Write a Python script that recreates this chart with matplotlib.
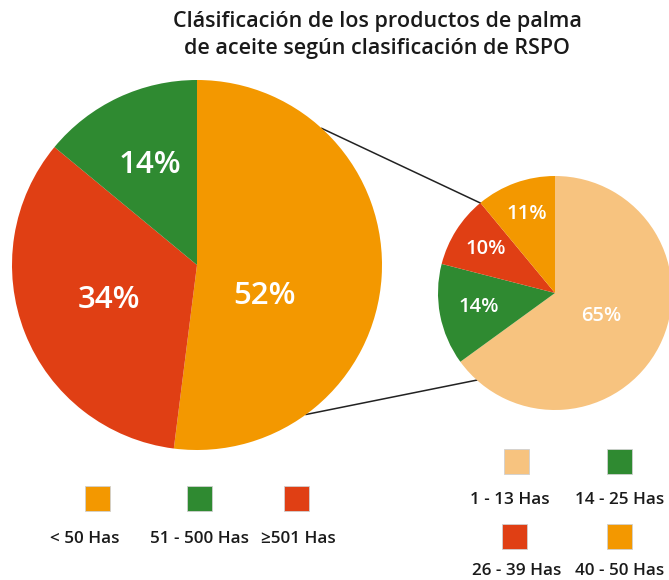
import matplotlib
matplotlib.use("Agg")
import matplotlib.pyplot as plt
import numpy as np

# ---- data ----
title = "Clásificación de los productos de palma\nde aceite según clasificación de RSPO"
main_labels = ["< 50 Has", "≥501 Has", "51 - 500 Has"]
main_values = [52, 34, 14]
sub_labels = ["1 - 13 Has", "14 - 25 Has", "26 - 39 Has", "40 - 50 Has"]
sub_values = [65, 14, 10, 11]

# ---- style ----
C_ORANGE = "#F39800"
C_RED = "#E03F14"
C_GREEN = "#2F8A31"
C_LIGHT = "#F7C37F"
main_colors = {"< 50 Has": C_ORANGE, "51 - 500 Has": C_GREEN, "≥501 Has": C_RED}
sub_colors = [C_LIGHT, C_GREEN, C_RED, C_ORANGE]
FONT = ["Open Sans", "DejaVu Sans"]
TXT = "#1a1a1a"

W, H = 669, 580
fig = plt.figure(figsize=(W / 100, H / 100), dpi=100)
ax = fig.add_axes([0, 0, 1, 1])

def py(y):
    return H - y

# big pie
c1 = (197, py(265)); r1 = 185
wedges1, _ = ax.pie(main_values, colors=[main_colors[l] for l in main_labels],
                    startangle=90, counterclock=False, center=c1, radius=r1,
                    wedgeprops=dict(linewidth=0), frame=True)
# small pie
c2 = (555, py(293)); r2 = 117
wedges2, _ = ax.pie(sub_values, colors=sub_colors, startangle=90, counterclock=False,
                    center=c2, radius=r2, wedgeprops=dict(linewidth=0), frame=True)
ax.set_xlim(0, W)
ax.set_ylim(0, H)
ax.set_aspect("equal")
ax.axis("off")

# percentage labels
big_pos = [(-25, 0.40), (None, 0.51), (None, 0.60)]
for w, v, (ang, d) in zip(wedges1, main_values, big_pos):
    a = (w.theta1 + w.theta2) / 2 if ang is None else ang
    x = c1[0] + d * r1 * np.cos(np.radians(a))
    y = c1[1] + d * r1 * np.sin(np.radians(a))
    ax.text(x, y, f"{v}%", color="white", fontsize=22.5, fontweight="semibold",
            family=FONT, ha="center", va="center")
small_d = [0.44, 0.66, 0.70, 0.72]
for w, v, d in zip(wedges2, sub_values, small_d):
    a = (w.theta1 + w.theta2) / 2
    x = c2[0] + d * r2 * np.cos(np.radians(a))
    y = c2[1] + d * r2 * np.sin(np.radians(a))
    ax.text(x, y, f"{v}%", color="white", fontsize=14.5, fontweight="semibold",
            family=FONT, ha="center", va="center")

# connector lines
def pt(c, r, a):
    return c[0] + r * np.cos(np.radians(a)), c[1] + r * np.sin(np.radians(a))
for a1, a2 in [(47.6, 129.7), (-53.9, -131.9)]:
    p1 = pt(c1, r1, a1); p2 = pt(c2, r2, a2)
    ax.plot([p1[0], p2[0]], [p1[1], p2[1]], color="#222222", lw=1.1, zorder=0.5)

# title
ax.text(377, py(35), title, ha="center", va="center", fontsize=15.5,
        fontweight="semibold", family=FONT, color=TXT, linespacing=1.35)

# legends
S = 25
def square(cx, cy, color):
    ax.add_patch(plt.Rectangle((cx - S / 2, py(cy) - S / 2), S, S, facecolor=color,
                               edgecolor="#d0d0d0", lw=0.6))

left_leg = [(97, 498, 85, 539), (199, 498, 199, 539), (296, 498, 298, 539)]
for lab, (sx, sy, tx, ty) in zip(["< 50 Has", "51 - 500 Has", "≥501 Has"], left_leg):
    square(sx, sy, main_colors[lab])
    ax.text(tx, py(ty), lab, ha="center", va="center", fontsize=12.3,
            fontweight="semibold", family=FONT, color=TXT)

right_leg = [(516, 461, 510, 500), (619, 461, 620, 500), (514, 536, 517, 571), (619, 536, 620, 571)]
for lab, col, (sx, sy, tx, ty) in zip(sub_labels, sub_colors, right_leg):
    square(sx, sy, col)
    ax.text(tx, py(ty), lab, ha="center", va="center", fontsize=12.3,
            fontweight="semibold", family=FONT, color=TXT)

fig.savefig("out.png", dpi=100, facecolor="white")
